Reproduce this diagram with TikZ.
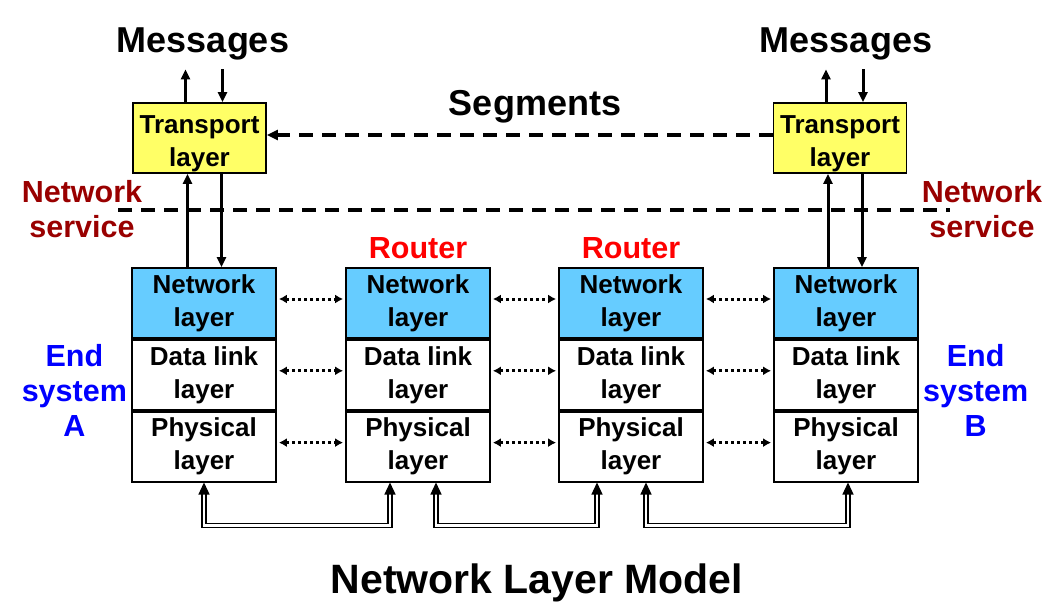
\documentclass[tikz,border=0pt]{standalone}
\usepackage{fontspec}
\setmainfont{Liberation Sans}
\usetikzlibrary{arrows.meta,positioning}

\definecolor{netblue}{RGB}{102,204,255}
\definecolor{transyellow}{RGB}{255,255,102}
\definecolor{servred}{RGB}{153,0,0}
\definecolor{endblue}{RGB}{0,0,255}

\begin{document}
\begin{tikzpicture}[x=1pt, y=-1pt,
        layerbox/.style={draw, line width=1.8pt, minimum width=144pt, minimum height=70pt,
            inner sep=0pt, align=center, font=\fontsize{26}{33}\selectfont\bfseries},
        transbox/.style={layerbox, fill=transyellow, minimum width=133pt, text height=62pt},
        msglabel/.style={font=\fontsize{36}{36}\selectfont\bfseries, inner sep=9pt},
        sidelabel/.style={font=\fontsize{30.5}{35}\selectfont\bfseries, align=center, inner sep=0pt},
        arr/.style={line width=3pt, -{Triangle[length=10pt,width=9pt]}},
        dashline/.style={line width=3.2pt, dash pattern=on 14pt off 9pt},
        dotarr/.style={line width=3pt, dash pattern=on 3pt off 3pt,
            {Latex[length=8pt,width=9pt]}-{Latex[length=8pt,width=9pt]}, shorten <=2pt, shorten >=2pt},
        wire/.style={double, double distance=2.6pt, line width=1.3pt,
            {Triangle[length=12pt,width=11pt]}-{Triangle[length=12pt,width=11pt]}}
    ]
    \useasboundingbox (0,0) rectangle (1054,608);

    % layer stacks
    \foreach \n/\x in {1/204, 2/418, 3/631, 4/846} {
        \node[layerbox, fill=netblue] (nl\n) at (\x,303) {Network\\layer};
        \node[layerbox, below=0pt of nl\n] (dl\n) {Data link\\layer};
        \node[layerbox, below=0pt of dl\n] (pl\n) {Physical\\layer};
    }
    \node[transbox] (tl) at (199.5,138) {Transport\\layer};
    \node[transbox] (tr) at (840,138) {Transport\\layer};

    % labels
    \node[msglabel] (msgl) at (203,44) {Messages};
    \node[msglabel] (msgr) at (846,44) {Messages};
    \node[msglabel] (seg) at (535,107) {Segments};
    \node[sidelabel, servred] (servl) at (82,209) {Network\\service};
    \node[sidelabel, servred] (servr) at (982,209) {Network\\service};
    \node[sidelabel, red, above=8pt of nl2] (rt2) {Router};
    \node[sidelabel, red, above=8pt of nl3] (rt3) {Router};
    \node[sidelabel, endblue, left=4pt of dl1, yshift=-16pt] (esa) {End\\system\\A};
    \node[sidelabel, endblue, right=4pt of dl4, yshift=-16pt] (esb) {End\\system\\B};
    \node[font=\fontsize{41}{41}\selectfont\bfseries] (title) at (537,583) {Network Layer Model};

    \draw[dashline] (118,210) -- (950,210);
    \draw[dashline, -{Triangle[length=11pt,width=10pt]}] ([yshift=3pt]tr.west) -- ([yshift=3pt]tl.east);

    % transport <-> messages, transport <-> network
    \foreach \t/\n/\m in {tl/1/msgl, tr/4/msgr} {
        \draw[arr] ([xshift=-14pt]\t.north) -- ([xshift=-14pt]\t.north |- \m.south);
        \draw[arr] ([xshift=23pt]\t.north |- \m.south) -- ([xshift=23pt]\t.north);
        \draw[arr] ([xshift=-12pt]\t.south |- nl\n.north) -- ([xshift=-12pt]\t.south);
        \draw[arr] ([xshift=22pt]\t.south) -- ([xshift=22pt]\t.south |- nl\n.north);
    }

    % peer layers
    \foreach \a/\b in {1/2, 2/3, 3/4} {
        \foreach \l in {nl, dl, pl} {\draw[dotarr] ([yshift=4pt]\l\a.east) -- ([yshift=4pt]\l\b.west);}
    }

    % physical links
    \foreach \a/\b/\sa/\sb in {1/2/0/-28, 2/3/18/-34, 3/4/15/2} {
        \draw[wire] ([xshift=\sa pt]pl\a.south) -- ++(0,43) -| ([xshift=\sb pt]pl\b.south);
    }
\end{tikzpicture}
\end{document}
